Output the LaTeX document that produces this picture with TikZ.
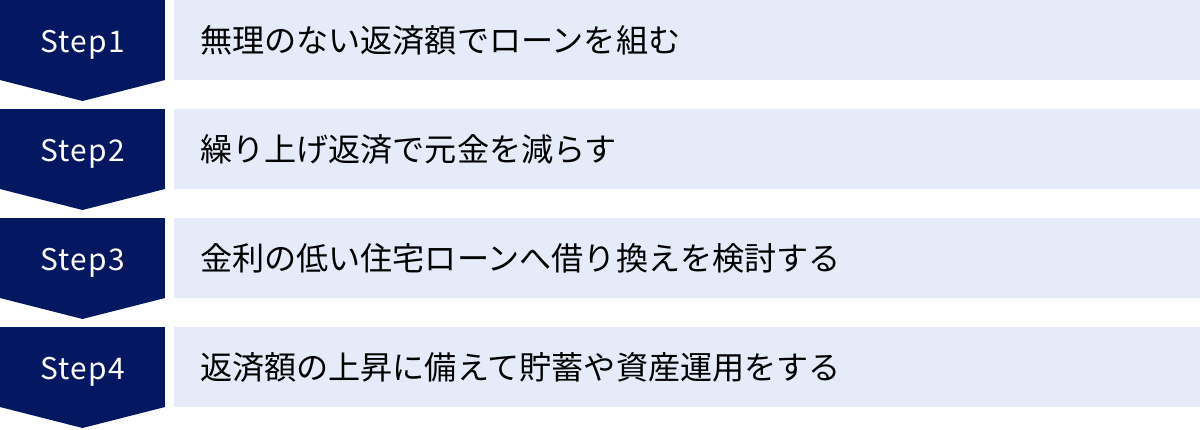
\documentclass[tikz,border=0pt]{standalone}
\usepackage{fontspec}
\newfontfamily\jpfont{Noto Sans CJK JP}
\newfontfamily\stepfont[LetterSpace=4]{Noto Sans CJK JP}
\usetikzlibrary{positioning}

\definecolor{stepnavy}{RGB}{4,24,98}
\definecolor{itemblue}{RGB}{229,235,248}

\tikzset{
    stepbox/.style={fill=stepnavy, text=white, minimum width=123.75pt, minimum height=60pt,
        inner sep=0pt, outer sep=0pt, text height=18.9pt, text depth=0pt,
        font=\stepfont\fontsize{22.4}{22.4}\selectfont},
    itembox/.style={fill=itemblue, minimum width=769.5pt, minimum height=60pt,
        text width=730.5pt, align=left, inner xsep=19.5pt, inner ysep=0pt, outer sep=0pt,
        text height=21.2pt, text depth=2.9pt,
        font=\jpfont\fontsize{24.1}{24.1}\selectfont},
    steptip/.style={fill=stepnavy},
}

\begin{document}
\begin{tikzpicture}
        \useasboundingbox (0,0) rectangle (900pt,-321.75pt);

        \node (Step1) [stepbox, anchor=north west] at (0,0) {Step1};
        \node (Step2) [stepbox, below=21.75pt of Step1] {Step2};
        \node (Step3) [stepbox, below=21.75pt of Step2] {Step3};
        \node (Step4) [stepbox, below=21.75pt of Step3] {Step4};

        \node (Item1) [itembox, right=6.75pt of Step1] {無理のない返済額でローンを組む};
        \node (Item2) [itembox, right=6.75pt of Step2] {繰り上げ返済で元金を減らす};
        \node (Item3) [itembox, right=6.75pt of Step3] {金利の低い住宅ローンへ借り換えを検討する};
        \node (Item4) [itembox, right=6.75pt of Step4] {返済額の上昇に備えて貯蓄や資産運用をする};

        \path[steptip] (Step1.south west) -- (Step1.south east) -- ([yshift=-15.75pt]Step1.south) -- cycle
                       (Step2.south west) -- (Step2.south east) -- ([yshift=-15.75pt]Step2.south) -- cycle
                       (Step3.south west) -- (Step3.south east) -- ([yshift=-15.75pt]Step3.south) -- cycle
                       (Step4.south west) -- (Step4.south east) -- ([yshift=-15.75pt]Step4.south) -- cycle;
    \end{tikzpicture}
\end{document}
